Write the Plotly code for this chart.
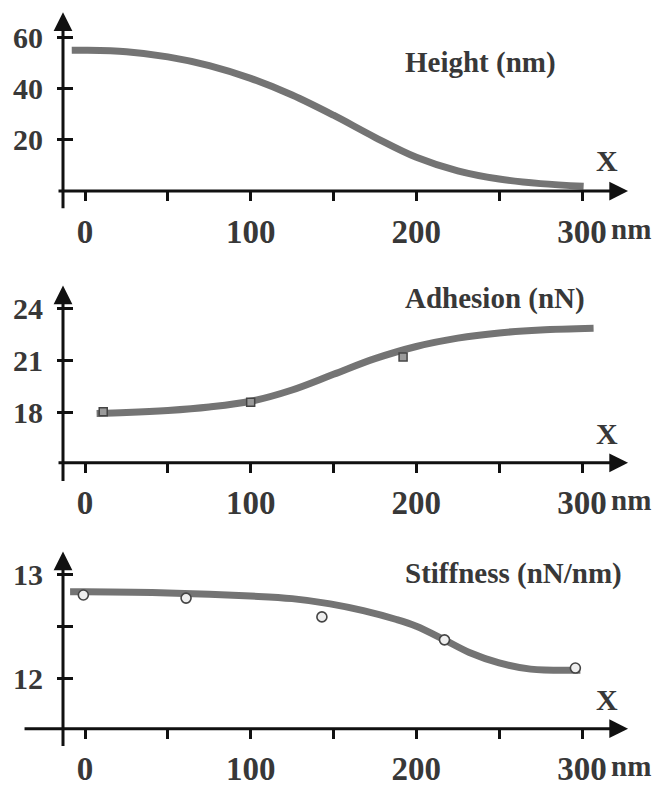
import plotly.graph_objects as go

# ---- data -------------------------------------------------------------
# Height profile across the feature (nm)
height_x = [-8, 0, 25, 50, 75, 100, 125, 150, 175, 200, 225, 250, 275, 301]
height_y = [55, 55, 54.4, 52.4, 49.0, 44, 37.5, 29.6, 21.0, 13.2, 7.9, 4.7, 2.9, 1.9]

# Adhesion (nN): fitted curve and measured points
adh_x = [7, 25, 50, 75, 100, 125, 150, 175, 200, 225, 250, 275, 307]
adh_y = [17.95, 18.0, 18.12, 18.32, 18.65, 19.3, 20.2, 21.1, 21.8, 22.28, 22.58, 22.75, 22.85]
adh_pts_x = [11, 100, 192]
adh_pts_y = [18.05, 18.6, 21.2]

# Stiffness (nN/nm): fitted curve and measured points
stiff_x = [-9, 0, 50, 100, 125, 148, 168, 188, 200, 217, 232, 250, 269, 299]
stiff_y = [12.83, 12.83, 12.82, 12.79, 12.765, 12.715, 12.65, 12.565, 12.50, 12.37, 12.25, 12.15, 12.09, 12.08]
stiff_pts_x = [-1, 61, 143, 217, 296]
stiff_pts_y = [12.80, 12.77, 12.59, 12.37, 12.10]

# tick labels
x_tickvals = [0, 50, 100, 150, 200, 250, 300]
x_ticktext = ["0", "", "100", "", "200", "", "300"]
height_ticks = [20, 40, 60]
adh_ticks = [18, 21, 24]
stiff_ticks = [12, 12.5, 13]
stiff_ticktext = ["12", "", "13"]

titles = ["Height (nm)", "Adhesion (nN)", "Stiffness (nN/nm)"]

# ---- styling ----------------------------------------------------------
W, H = 656, 787
FONT = "Liberation Serif"
TXT = "#383838"
AX = "#111111"
CURVE = "#747474"

X_RANGE = [-51.31, 344.67]
Y_AXIS_X = -13.28          # data x where the vertical axis sits
X_TIP = 327.8              # arrow tip of the horizontal axis

# per-panel axis geometry
panels = [
    dict(domain=[1 - 194 / H, 1.0], range=[0.0, 74.6], origin=0.0,
         ytip=69.8, ytail=-7.3, xtail=-16.9, ticks=height_ticks,
         ticktext=[str(v) for v in height_ticks]),
    dict(domain=[1 - 470 / H, 1 - 250 / H], range=[15.113, 27.566], origin=15.113,
         ytip=25.3, ytail=13.98, xtail=-16.9, ticks=adh_ticks,
         ticktext=[str(v) for v in adh_ticks]),
    dict(domain=[1 - 740 / H, 1 - 525 / H], range=[11.519, 13.547], origin=11.519,
         ytip=13.217, ytail=11.34, xtail=-37.4, ticks=stiff_ticks,
         ticktext=stiff_ticktext),
]

fig = go.Figure()

line_style = dict(color=CURVE, width=7, shape="spline", smoothing=1.0)

fig.add_trace(go.Scatter(x=height_x, y=height_y, mode="lines", line=line_style,
                         xaxis="x", yaxis="y", showlegend=False, hoverinfo="skip"))

fig.add_trace(go.Scatter(x=adh_x, y=adh_y, mode="lines", line=line_style,
                         xaxis="x2", yaxis="y2", showlegend=False, hoverinfo="skip"))
fig.add_trace(go.Scatter(x=adh_pts_x, y=adh_pts_y, mode="markers",
                         marker=dict(symbol="square", size=8, color="#9a9a9a",
                                     line=dict(color="#444444", width=1.5)),
                         xaxis="x2", yaxis="y2", showlegend=False, cliponaxis=False))

fig.add_trace(go.Scatter(x=stiff_x, y=stiff_y, mode="lines", line=line_style,
                         xaxis="x3", yaxis="y3", showlegend=False, hoverinfo="skip"))
fig.add_trace(go.Scatter(x=stiff_pts_x, y=stiff_pts_y, mode="markers",
                         marker=dict(symbol="circle", size=10, color="#eeeeee",
                                     line=dict(color="#444444", width=1.6)),
                         xaxis="x3", yaxis="y3", showlegend=False, cliponaxis=False))

layout = dict(
    width=W, height=H,
    margin=dict(l=0, r=0, t=0, b=0),
    paper_bgcolor="white", plot_bgcolor="white",
    showlegend=False,
)

annotations = []
for i, p in enumerate(panels, start=1):
    sfx = "" if i == 1 else str(i)
    layout["xaxis" + sfx] = dict(
        domain=[0, 1], range=X_RANGE, anchor="y" + sfx,
        showline=False, showgrid=False, zeroline=False,
        ticks="outside", ticklen=9, tickwidth=3, tickcolor=AX,
        tickvals=x_tickvals, ticktext=x_ticktext,
        tickfont=dict(family=FONT, size=33, color=TXT, weight="bold"),
        ticklabelstandoff=2, fixedrange=True,
    )
    layout["yaxis" + sfx] = dict(
        domain=p["domain"], range=p["range"], anchor="free", position=73 / W,
        showline=False, showgrid=False, zeroline=False,
        ticks="outside", ticklen=16, tickwidth=3, tickcolor=AX,
        tickvals=p["ticks"], ticktext=p["ticktext"],
        tickfont=dict(family=FONT, size=30, color=TXT, weight="bold"),
        ticklabelstandoff=8, fixedrange=True,
    )
    xr, yr = "x" + sfx, "y" + sfx
    # vertical axis with arrow
    annotations.append(dict(
        x=Y_AXIS_X, y=p["ytip"], xref=xr, yref=yr,
        ax=Y_AXIS_X, ay=p["ytail"], axref=xr, ayref=yr,
        text="", showarrow=True, arrowhead=2, arrowsize=1.25,
        arrowwidth=3, arrowcolor=AX, standoff=0,
    ))
    # horizontal axis with arrow
    annotations.append(dict(
        x=X_TIP, y=p["origin"], xref=xr, yref=yr,
        ax=p["xtail"], ay=p["origin"], axref=xr, ayref=yr,
        text="", showarrow=True, arrowhead=2, arrowsize=1.25,
        arrowwidth=3, arrowcolor=AX, standoff=0,
    ))

# panel titles, axis letter and unit
title_y = [63, 303, 582]
x_letter_y = [163, 440, 710]
unit_y = [233, 508, 778]
for t, ty, xy, uy in zip(titles, title_y, x_letter_y, unit_y):
    annotations.append(dict(
        text=t, x=403 / W, y=1 - ty / H, xref="paper", yref="paper",
        xanchor="left", yanchor="middle", showarrow=False,
        font=dict(family=FONT, size=29, color=TXT, weight="bold"),
    ))
    annotations.append(dict(
        text="X", x=607 / W, y=1 - xy / H, xref="paper", yref="paper",
        xanchor="center", yanchor="middle", showarrow=False,
        font=dict(family=FONT, size=30, color=TXT, weight="bold"),
    ))
    annotations.append(dict(
        text="nm", x=653 / W, y=1 - uy / H, xref="paper", yref="paper",
        xanchor="right", yanchor="middle", showarrow=False,
        font=dict(family=FONT, size=29, color=TXT, weight="bold"),
    ))

layout["annotations"] = annotations
fig.update_layout(**layout)

fig.write_html("out.html")
